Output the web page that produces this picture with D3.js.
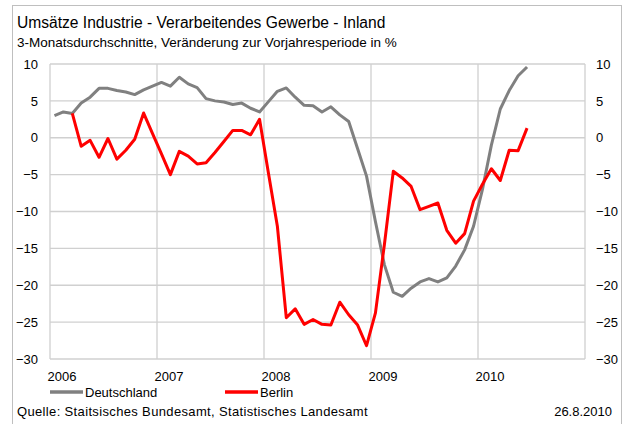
<!DOCTYPE html>
<html>
<head>
<meta charset="utf-8">
<script src="https://cdn.jsdelivr.net/npm/d3@7"></script>
<style>
  body { margin: 0; background: #fff; }
  svg { display: block; font-family: "Liberation Sans", Arial, sans-serif; }
</style>
</head>
<body>
<svg id="chart" width="623" height="424"></svg>
<script>
// Year labels on the category axis and value ticks on both sides
const years = ["2006", "2007", "2008", "2009", "2010"];
const yTicks = [10, 5, 0, -5, -10, -15, -20, -25, -30];

// Monthly 3-month averages, change vs. same period of previous year (%), Jan 2006 – Jun 2010
const deutschland = [
  3.0, 3.5, 3.3, 4.7, 5.5, 6.7, 6.7, 6.4, 6.2, 5.85, 6.5, 7.0,
  7.5, 7.0, 8.2, 7.3, 6.8, 5.3, 5.0, 4.85, 4.5, 4.7, 4.0, 3.5,
  4.9, 6.3, 6.75, 5.5, 4.4, 4.35, 3.5, 4.2, 3.1, 2.2, -1.5, -5.2,
  -11.4, -17.2, -20.95, -21.5, -20.4, -19.55, -19.1, -19.55, -19.0, -17.4, -15.2, -12.0,
  -7.0, -1.0, 3.9, 6.4, 8.4, 9.6
];
const berlin = [
  null, null, 3.3, -1.16, -0.35, -2.65, -0.1, -2.9, -1.7, -0.2, 3.35, 0.55,
  -2.2, -5.0, -1.85, -2.5, -3.55, -3.4, -2.0, -0.5, 1.0, 1.0, 0.4, 2.5,
  -4.8, -12.0, -24.4, -23.2, -25.3, -24.65, -25.3, -25.4, -22.3, -24.0, -25.4, -28.2,
  -23.75, -14.5, -4.55, -5.45, -6.6, -9.75, -9.3, -8.85, -12.55, -14.3, -13.0, -8.6,
  -6.3, -4.2, -5.8, -1.7, -1.75, 1.3
];

const seriesList = [
  { name: "Deutschland", values: deutschland, color: "#808080" },
  { name: "Berlin", values: berlin, color: "#ff0000" }
];

const svg = d3.select("#chart");
const plot = { left: 50, right: 585, top: 64, bottom: 359 };

// One category per month over the five years shown
const allMonths = d3.timeMonth.range(new Date(2006, 0, 1), new Date(2011, 0, 1));
const x = d3.scaleBand().domain(allMonths.map(d => +d)).range([plot.left, plot.right]).paddingInner(0).paddingOuter(0);
const y = d3.scaleLinear().domain([-30, 10]).range([plot.bottom, plot.top]);
const xc = i => x(+allMonths[i]) + x.bandwidth() / 2;

// Outer frame
svg.append("rect")
  .attr("x", 12.5).attr("y", 5.5).attr("width", 609).attr("height", 440)
  .attr("fill", "none").attr("stroke", "#bfbfbf").attr("stroke-width", 1);

// Title and subtitle
svg.append("text").attr("x", 17).attr("y", 28)
  .attr("font-size", 15.6).attr("fill", "#000")
  .text("Umsätze Industrie - Verarbeitendes Gewerbe - Inland");
svg.append("text").attr("x", 17).attr("y", 47)
  .attr("font-size", 13.5).attr("fill", "#000")
  .text("3-Monatsdurchschnitte, Veränderung zur Vorjahresperiode in %");

// Horizontal gridlines
const grid = svg.append("g").attr("stroke", "#d0d0d0").attr("stroke-width", 1.3);
grid.selectAll("line.h").data(yTicks).join("line")
  .attr("class", "h")
  .attr("x1", plot.left).attr("x2", plot.right)
  .attr("y1", d => y(d)).attr("y2", d => y(d));

// Vertical gridlines at each year boundary plus the plot edges
const yearStarts = years.map((yr, k) => xc(k * 12) - x.bandwidth() / 2);
grid.selectAll("line.v").data(yearStarts.concat([plot.right])).join("line")
  .attr("class", "v")
  .attr("x1", d => d).attr("x2", d => d)
  .attr("y1", plot.top).attr("y2", plot.bottom);

// Left and right value axes
const leftAxis = svg.append("g").attr("transform", `translate(${plot.left},0)`)
  .call(d3.axisLeft(y).tickValues(yTicks).tickSize(0).tickPadding(12).tickFormat(d3.format("d")));
const rightAxis = svg.append("g").attr("transform", `translate(${plot.right},0)`)
  .call(d3.axisRight(y).tickValues(yTicks).tickSize(0).tickPadding(11).tickFormat(d3.format("d")));
[leftAxis, rightAxis].forEach(g => {
  g.select(".domain").remove();
  g.selectAll("text").attr("font-size", 13).attr("fill", "#000")
    .attr("font-family", "'Liberation Sans', Arial, sans-serif");
});

// Year labels
svg.append("g").selectAll("text").data(years).join("text")
  .attr("x", (d, k) => yearStarts[k] + 12)
  .attr("y", 381)
  .attr("text-anchor", "middle")
  .attr("font-size", 13).attr("fill", "#000")
  .text(d => d);

// Series lines
const line = d3.line()
  .defined(d => d.v !== null)
  .x(d => xc(d.i))
  .y(d => y(d.v));

svg.append("g").selectAll("path").data(seriesList).join("path")
  .attr("fill", "none")
  .attr("stroke", d => d.color)
  .attr("stroke-width", 3)
  .attr("stroke-linejoin", "round")
  .attr("d", d => line(d.values.map((v, i) => ({ i, v }))));

// Legend
const legendPos = [{ x: 50 }, { x: 225 }];
const legend = svg.append("g").selectAll("g").data(seriesList).join("g")
  .attr("transform", (d, k) => `translate(${legendPos[k].x},392)`);
legend.append("line").attr("x1", 0).attr("x2", 33).attr("y1", 0).attr("y2", 0)
  .attr("stroke", d => d.color).attr("stroke-width", 3.5);
legend.append("text").attr("x", 35).attr("y", 5)
  .attr("font-size", 13).attr("fill", "#000")
  .text(d => d.name);

// Source and date
svg.append("text").attr("x", 17).attr("y", 416)
  .attr("font-size", 13).attr("letter-spacing", 0.35).attr("fill", "#000")
  .text("Quelle: Staitsisches Bundesamt, Statistisches Landesamt");
svg.append("text").attr("x", 612).attr("y", 416)
  .attr("text-anchor", "end")
  .attr("font-size", 13).attr("fill", "#000")
  .text("26.8.2010");
</script>
</body>
</html>
